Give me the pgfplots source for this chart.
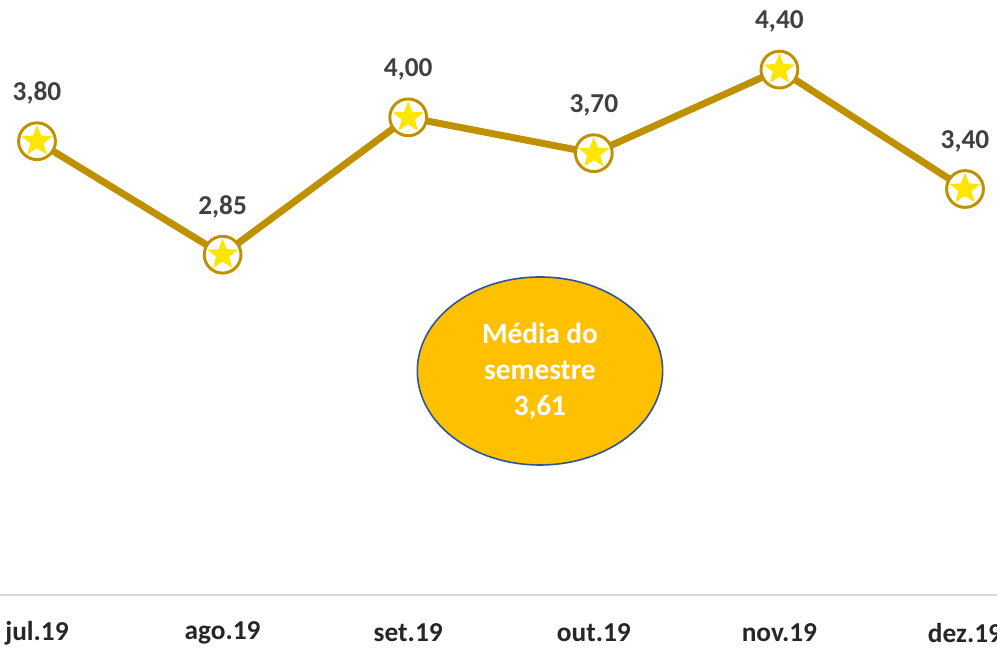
\documentclass[border=0pt]{standalone}
\usepackage{pgfplots}
\pgfplotsset{compat=1.18}
\usepackage{fontspec}
\setmainfont{Carlito}
\definecolor{lgold}{RGB}{191,144,0}
\definecolor{staryel}{RGB}{255,230,0}
\definecolor{ellfill}{RGB}{255,192,0}
\definecolor{ellbord}{RGB}{47,85,151}
\definecolor{axgray}{RGB}{217,217,217}
\definecolor{labgray}{RGB}{64,64,64}
\pgfdeclareplotmark{cstar}{%
  \pgfpathcircle{\pgfpointorigin}{\pgfplotmarksize}%
  \pgfsetfillcolor{white}\pgfsetstrokecolor{lgold}\pgfsetlinewidth{2.2pt}%
  \pgfusepath{fill,stroke}%
  \pgfsetfillcolor{staryel}%
  \pgfpathmoveto{\pgfpointpolar{90}{0.88\pgfplotmarksize}}%
  \pgfpathlineto{\pgfpointpolar{126}{0.38\pgfplotmarksize}}%
  \pgfpathlineto{\pgfpointpolar{162}{0.88\pgfplotmarksize}}%
  \pgfpathlineto{\pgfpointpolar{198}{0.38\pgfplotmarksize}}%
  \pgfpathlineto{\pgfpointpolar{234}{0.88\pgfplotmarksize}}%
  \pgfpathlineto{\pgfpointpolar{270}{0.38\pgfplotmarksize}}%
  \pgfpathlineto{\pgfpointpolar{306}{0.88\pgfplotmarksize}}%
  \pgfpathlineto{\pgfpointpolar{342}{0.38\pgfplotmarksize}}%
  \pgfpathlineto{\pgfpointpolar{18}{0.88\pgfplotmarksize}}%
  \pgfpathlineto{\pgfpointpolar{54}{0.38\pgfplotmarksize}}%
  \pgfpathclose
  \pgfusepath{fill}%
}
\pgfplotstableread{
x y lab
0 3.80 3,80
1 2.85 2,85
2 4.00 4,00
3 3.70 3,70
4 4.40 4,40
5 3.40 3,40
}\datatab
\begin{document}
\begin{tikzpicture}
\begin{axis}[
  name=ax,
  scale only axis,
  width=747.75pt, height=446.25pt,
  xmin=-0.1994, xmax=5.1724,
  ymin=0, ymax=4.983,
  clip=false,
  axis y line=none,
  axis x line=bottom,
  x axis line style={-, draw=axgray, line width=1.5pt},
  xtick={0,1,2,3,4,5},
  xticklabels={jul.19,ago.19,set.19,out.19,nov.19,dez.19},
  major tick length=0pt,
  xtick style={draw=none},
  ytick=\empty,
  xticklabel style={font=\fontsize{20.5}{24}\selectfont\bfseries, text=black!85, anchor=center, yshift=-28.5pt},
  nodes near coords={\pgfplotspointmeta},
  point meta=explicit symbolic,
  every node near coord/.append style={anchor=center, yshift=36pt, font=\fontsize{20.5}{24}\selectfont\bfseries, text=labgray},
]
\addplot[color=lgold, line width=5.2pt, mark=cstar, mark size=13.8pt] table[x=x, y=y, meta=lab] {\datatab};
\draw[fill=ellfill, draw=ellbord, line width=1.2pt] (axis cs:2.71,1.876) ellipse [x radius=92pt, y radius=70.5pt];
\node[align=center, text=white, font=\fontsize{22}{27}\selectfont\bfseries] at (axis cs:2.71,1.876) {Média do\\semestre\\3,61};
\end{axis}
\pgfresetboundingbox
\path[use as bounding box] ([yshift=-39.75pt]ax.south west) rectangle (ax.north east);
\end{tikzpicture}
\end{document}
